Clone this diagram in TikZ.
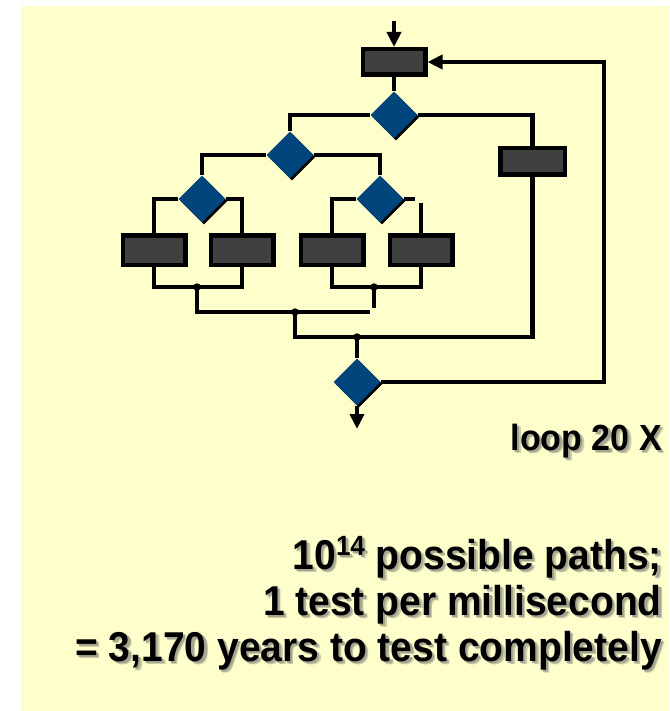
\documentclass[tikz,border=0pt]{standalone}
\usepackage{fontspec}
\setmainfont{Liberation Sans}
\usetikzlibrary{shapes.geometric,arrows.meta,shadows}
\definecolor{bgyellow}{RGB}{255,255,204}
\definecolor{dblue}{RGB}{0,69,124}
\definecolor{boxgray}{RGB}{64,64,64}
\definecolor{txtshadow}{RGB}{165,165,145}
\definecolor{txtshadowb}{RGB}{205,205,170}
\newcommand{\shtxt}[1]{\makebox[0pt][l]{\kern3.5pt\raisebox{-3.5pt}{\color{txtshadowb}#1}}\makebox[0pt][l]{\kern2.2pt\raisebox{-2.2pt}{\color{txtshadow}#1}}#1}
\newcommand{\tallbox}[1]{\scalebox{1}[1.07]{#1}}
\begin{document}
\begin{tikzpicture}[x=1pt,y=-1pt,
  proc/.style={draw=black, line width=4.5pt, fill=boxgray, rectangle,
    minimum width=62.5pt, minimum height=29.5pt, inner sep=0pt},
  dec/.style={diamond, fill=dblue, minimum width=47pt, minimum height=47pt,
    inner sep=0pt, aspect=1,
    drop shadow={shadow xshift=2pt, shadow yshift=-2pt, fill=black, opacity=1}},
  flow/.style={line width=4.5pt, draw=black},
  tipped/.style={-{Triangle[length=15pt,width=14pt]}},
  jdot/.style={circle, fill=black, inner sep=0pt, minimum size=7.5pt},
  lbl/.style={font=\bfseries\fontsize{34}{40}\selectfont, anchor=base east, inner sep=0pt},
  big/.style={font=\bfseries\fontsize{39}{46}\selectfont, anchor=base east, inner sep=0pt},
]
\useasboundingbox (0,0) rectangle (669,711);
\fill[white] (0,0) rectangle (669,711);
\fill[bgyellow] (21,6) rectangle (669,711);

% process boxes
\node[proc, minimum height=25.5pt] (T) at (394,62) {};
\node[proc, minimum width=64.5pt, minimum height=26.5pt] (R) at (532.5,161.5) {};
\node[proc] (A) at (154,250) {};
\node[proc] (B) at (242,250) {};
\node[proc] (C) at (332,250) {};
\node[proc] (D) at (421,250) {};

% decisions
\node[dec] (D1) at (394,115) {};
\node[dec] (D2) at (290,155) {};
\node[dec] (D3) at (202,199) {};
\node[dec] (D4) at (380,199) {};
\node[dec] (D5) at (357,382) {};

% junctions
\node[jdot] (j1) at (197,287) {};
\node[jdot] (j2) at (374,287) {};
\node[jdot] (j3) at (295,312) {};
\node[jdot] (j4) at (357,337) {};

% free ends
\coordinate (in) at (394,21);
\coordinate (out) at (357,429);
\coordinate (lc) at (604,62);
\coordinate (d4s) at (415,199);
\coordinate (dtop) at (421,203);
\coordinate (e1) at (370,312);
\coordinate (e2) at (374,308);

% connectors
\draw[flow] (T.south) -- (D1.north);
\draw[flow] (D1.west) -| (D2.north);
\draw[flow] (D1.east) -| (R.north);
\draw[flow] (D2.west) -| (D3.north);
\draw[flow] (D2.east) -| (D4.north);
\draw[flow] (D3.west) -| (A.north);
\draw[flow] (D3.east) -| (B.north);
\draw[flow] (D4.west) -| (C.north);
\draw[flow] (D4.east) -- (d4s);
\draw[flow] (dtop) -- (D.north);
\draw[flow] (A.south) |- (j1.center) -| (B.south);
\draw[flow] (C.south) |- (j2.center) -| (D.south);
\draw[flow] (j1.center) |- (e1);
\draw[flow] (j2.center) -- (e2);
\draw[flow] (j3.center) |- (j4.center) -| (R.south);
\draw[flow] (j4.center) -- (D5.north);
\draw[flow, tipped] (D5.east) -| (lc) -- (T.east);
\draw[flow, tipped] (in) -- (T.north);
\draw[flow, tipped] (D5.south) -- (out);

% texts (with soft shadow)
\node[lbl] (loop) at (662,450) {\tallbox{\shtxt{loop 20 X}}};
\node[big] (l1) at (662,569) {\tallbox{\shtxt{10\raisebox{13pt}{\fontsize{26}{26}\selectfont 14} possible paths;}}};
\node[big] (l2) at (662,615) {\tallbox{\shtxt{1 test per millisecond}}};
\node[big] (l3) at (662,661) {\tallbox{\shtxt{= 3,170 years to test completely}}};
\end{tikzpicture}
\end{document}
